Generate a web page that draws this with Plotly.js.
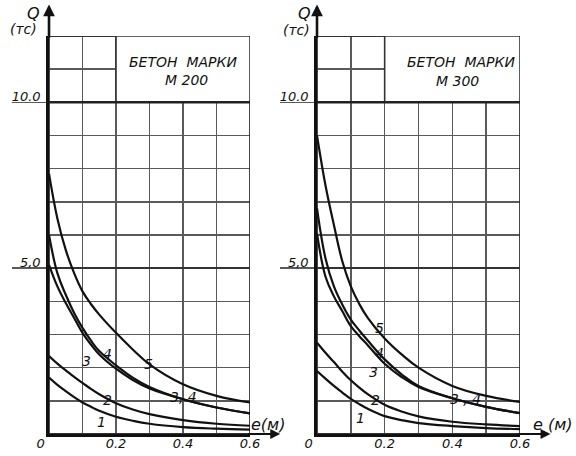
<!DOCTYPE html>
<html>
<head>
<meta charset="utf-8">
<script src="https://cdn.plot.ly/plotly-3.0.1.min.js"></script>
<style>html,body{margin:0;padding:0;background:#fff;}#chart{width:576px;height:456px;}</style>
</head>
<body>
<div id="chart"></div>
<script>
// ---- data ----
const E = [0, 0.025, 0.05, 0.075, 0.1, 0.125, 0.15, 0.2, 0.25, 0.3, 0.4, 0.5, 0.6];   // e (m)

// Бетон марки М 200
const m200_c1 = [1.70, 1.48, 1.29, 1.11, 0.95, 0.82, 0.70, 0.52, 0.40, 0.31, 0.21, 0.16, 0.13];
const m200_c2 = [2.35, 2.12, 1.92, 1.72, 1.54, 1.36, 1.20, 0.93, 0.74, 0.60, 0.42, 0.31, 0.25];
const m200_c3 = [5.10, 4.45, 3.95, 3.50, 3.05, 2.70, 2.40, 1.97, 1.63, 1.37, 1.05, 0.80, 0.62];
const m200_c4 = [6.00, 4.85, 4.20, 3.65, 3.20, 2.82, 2.50, 2.07, 1.70, 1.42, 1.05, 0.80, 0.62];
const m200_c5 = [7.85, 6.50, 5.55, 4.85, 4.30, 3.92, 3.60, 3.05, 2.55, 2.10, 1.50, 1.15, 0.95];

// Бетон марки М 300
const m300_c1 = [1.90, 1.67, 1.45, 1.25, 1.06, 0.90, 0.76, 0.54, 0.42, 0.33, 0.24, 0.18, 0.15];
const m300_c2 = [2.75, 2.45, 2.17, 1.88, 1.62, 1.40, 1.20, 0.88, 0.68, 0.53, 0.37, 0.29, 0.24];
const m300_c3 = [6.05, 4.75, 4.15, 3.70, 3.25, 2.95, 2.68, 2.12, 1.72, 1.42, 1.08, 0.82, 0.63];
const m300_c4 = [6.80, 5.30, 4.45, 3.90, 3.45, 3.12, 2.82, 2.25, 1.80, 1.45, 1.08, 0.82, 0.63];
const m300_c5 = [9.00, 7.50, 6.30, 5.20, 4.45, 3.92, 3.50, 2.88, 2.40, 2.00, 1.45, 1.15, 0.97];

const panelTitles = ["М 200", "М 300"];
const xTickVals = [0, 0.2, 0.4, 0.6];
const xTickText = ["0\u00a0\u00a0\u00a0\u00a0", "0.2", "0.4", "0.6"];
const yTickVals = [5, 10];
const yTickText = ["5,0", "10.0"];

// ---- styling ----
const INK = "#111";
const GRID = "#5a5a5a";
const FAMILY = "DejaVu Sans, Liberation Sans, sans-serif";

function curve(y, xa, ya) {
  return {x: E, y: y, xaxis: xa, yaxis: ya, type: "scatter", mode: "lines",
          line: {color: INK, width: 2.2, shape: "spline", smoothing: 1.1},
          hoverinfo: "skip", showlegend: false};
}

const traces = [
  curve(m200_c1, "x", "y"), curve(m200_c2, "x", "y"), curve(m200_c3, "x", "y"),
  curve(m200_c4, "x", "y"), curve(m200_c5, "x", "y"),
  curve(m300_c1, "x2", "y2"), curve(m300_c2, "x2", "y2"), curve(m300_c3, "x2", "y2"),
  curve(m300_c4, "x2", "y2"), curve(m300_c5, "x2", "y2")
];

function xAxis(domain, anchor) {
  return {domain: domain, anchor: anchor, range: [0, 0.6], automargin: false,
          tickmode: "array", tickvals: xTickVals, ticktext: xTickText,
          ticks: "", showgrid: true, gridcolor: GRID, gridwidth: 1.4,
          minor: {tickmode: "linear", tick0: 0, dtick: 0.1, showgrid: true, gridcolor: GRID, gridwidth: 1.4, ticks: ""},
          showline: true, linecolor: INK, linewidth: 2.8, zeroline: false,
          tickfont: {family: FAMILY, size: 13, color: INK, style: "italic"}, ticklabelstandoff: -4};
}
function yAxis(domain, anchor) {
  return {domain: domain, anchor: anchor, range: [0, 12], automargin: false,
          tickmode: "array", tickvals: yTickVals, ticktext: yTickText,
          ticks: "outside", ticklen: 34, tickwidth: 1.4, tickcolor: GRID,
          showgrid: true, gridcolor: "#333", gridwidth: 2,
          minor: {tickmode: "linear", tick0: 0, dtick: 1, showgrid: true, gridcolor: GRID, gridwidth: 1.4, ticks: ""},
          showline: true, linecolor: INK, linewidth: 2.8, zeroline: false,
          tickfont: {family: FAMILY, size: 13, color: INK, style: "italic"},
          ticklabelstandoff: -31, ticklabelshift: -6};
}

const yDom = [0.0482, 0.9211];
const layout = {
  width: 576, height: 456,
  margin: {l: 0, r: 0, t: 0, b: 0},
  paper_bgcolor: "#fff", plot_bgcolor: "#fff",
  showlegend: false,
  xaxis: xAxis([49/576, 250/576], "y"),
  yaxis: yAxis(yDom, "x"),
  xaxis2: xAxis([317/576, 520/576], "y2"),
  yaxis2: yAxis(yDom, "x2"),
  shapes: [],
  annotations: []
};

// frame (top / right) and the blank caption box in the upper right of each panel
[["x", "y"], ["x2", "y2"]].forEach(function (p) {
  layout.shapes.push({type: "rect", xref: p[0], yref: p[1], x0: 0, x1: 0.6, y0: 0, y1: 12,
                      line: {color: "#333", width: 1.8}, layer: "between"});
  layout.shapes.push({type: "rect", xref: p[0], yref: p[1], x0: 0.2, x1: 0.6, y0: 10, y1: 12,
                      fillcolor: "#fff", line: {color: "#333", width: 1.6}, layer: "above"});
  layout.shapes.push({type: "line", xref: p[0], yref: p[1], x0: 0, x1: 0.6, y0: 10, y1: 10,
                      line: {color: "#222", width: 2.4}, layer: "above"});
  // axis arrows
  layout.annotations.push({xref: p[0], yref: p[1], axref: p[0], ayref: p[1],
                           x: 0, y: 12.95, ax: 0, ay: 11.9, text: "", showarrow: true,
                           arrowhead: 2, arrowsize: 0.9, arrowwidth: 2.6, arrowcolor: INK});
  layout.annotations.push({xref: p[0], yref: p[1], axref: p[0], ayref: p[1],
                           x: 0.69, y: 0, ax: 0.59, ay: 0, text: "", showarrow: true,
                           arrowhead: 2, arrowsize: 0.9, arrowwidth: 2.2, arrowcolor: INK});
});

function txt(xref, yref, x, y, t, size) {
  return {xref: xref, yref: yref, x: x, y: y, text: t, showarrow: false,
          xanchor: "center", yanchor: "middle",
          font: {family: FAMILY, size: size, color: INK, style: "italic"}};
}

// captions
layout.annotations.push(txt("x", "y", 0.40, 11.22, "БЕТОН  МАРКИ", 14));
layout.annotations.push(txt("x", "y", 0.41, 10.68, panelTitles[0], 14));
layout.annotations.push(txt("x2", "y2", 0.425, 11.22, "БЕТОН  МАРКИ", 14));
layout.annotations.push(txt("x2", "y2", 0.415, 10.65, panelTitles[1], 14));

// axis names
layout.annotations.push(txt("paper", "paper", 33/576, 1 - 13/456, "Q", 16));
layout.annotations.push(txt("paper", "paper", 23/576, 1 - 29/456, "(тс)", 14));
layout.annotations.push(txt("paper", "paper", 304/576, 1 - 13/456, "Q", 16));
layout.annotations.push(txt("paper", "paper", 296/576, 1 - 30/456, "(тс)", 14));
layout.annotations.push(txt("paper", "paper", 268/576, 1 - 424/456, "e(м)", 16));
layout.annotations.push(txt("paper", "paper", 552/576, 1 - 424/456, "e (м)", 16));

// curve numbers
const lab = function (xr, yr, x, y, t) { layout.annotations.push(txt(xr, yr, x, y, t, 14)); };
lab("x", "y", 0.113, 2.2, "3");
lab("x", "y", 0.175, 2.42, "4");
lab("x", "y", 0.296, 2.1, "5");
lab("x", "y", 0.40, 1.12, "3, 4");
lab("x", "y", 0.176, 1.02, "2");
lab("x", "y", 0.158, 0.35, "1");
lab("x2", "y2", 0.186, 3.2, "5");
lab("x2", "y2", 0.186, 2.44, "4");
lab("x2", "y2", 0.166, 1.86, "3");
lab("x2", "y2", 0.44, 1.05, "3 , 4");
lab("x2", "y2", 0.172, 1.04, "2");
lab("x2", "y2", 0.128, 0.48, "1");

Plotly.newPlot("chart", traces, layout, {staticPlot: true, displayModeBar: false});
</script>
</body>
</html>
